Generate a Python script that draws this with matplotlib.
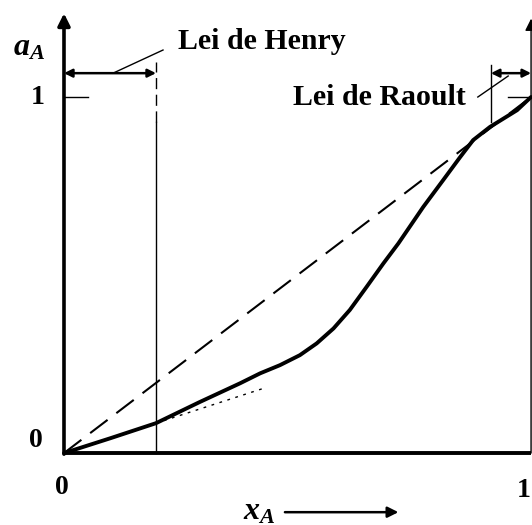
import matplotlib
matplotlib.use("Agg")
import matplotlib.pyplot as plt

plt.rcParams["mathtext.fontset"] = "custom"
plt.rcParams["mathtext.it"] = "Liberation Serif:italic:bold"
plt.rcParams["mathtext.rm"] = "Liberation Serif:bold"

# activity of A against its mole fraction (non-ideal solution)
x_real = [0.0, 0.1, 0.197, 0.29, 0.377, 0.420, 0.4625, 0.505, 0.541, 0.577,
          0.612, 0.648, 0.684, 0.716, 0.769, 0.812, 0.848, 0.876, 0.912,
          0.970, 1.0]
a_real = [0.0, 0.042, 0.084, 0.143, 0.196, 0.224, 0.247, 0.275, 0.308, 0.350,
          0.402, 0.467, 0.533, 0.589, 0.691, 0.767, 0.831, 0.879, 0.916,
          0.963, 1.0]

# Raoult ideal line and Henry tangent
x_ideal = [0.0, 1.0]
a_ideal = [0.0, 1.0]
x_henry = [0.197, 0.43]
a_henry = [0.084, 0.183]

x_henry_lim = 0.197
x_raoult_lim = 0.914

serif = ["Liberation Serif", "DejaVu Serif"]

fig = plt.figure(figsize=(5.32, 5.25), dpi=100)
ax = fig.add_axes([0, 0, 1, 1])
ax.set_xlim(-0.137, 1.002)
ax.set_ylim(-0.202, 1.2725)
ax.axis("off")

# axes drawn by hand
ax.annotate("", xy=(0, 1.235), xytext=(0, -0.003),
            arrowprops=dict(arrowstyle="-|>", lw=2.6, color="black",
                            mutation_scale=18, shrinkA=0, shrinkB=0))
ax.plot([0, 1], [0, 0], color="black", lw=2.8, solid_capstyle="butt")
ax.annotate("", xy=(1, 1.22), xytext=(1, 0),
            arrowprops=dict(arrowstyle="-|>", lw=1.0, color="black",
                            mutation_scale=18, shrinkA=0, shrinkB=0))
ax.plot([0, 0.051], [1, 1], color="black", lw=1.0)
ax.plot([0.951, 1], [1, 1], color="black", lw=1.0)

# curves
ax.plot(x_ideal, a_ideal, color="black", lw=1.5, dashes=(10.5, 5.3))
ax.plot(x_henry, a_henry, color="black", lw=1.0, dashes=(2, 4))
ax.plot(x_real, a_real, color="black", lw=2.8, solid_joinstyle="round",
        solid_capstyle="round")

# limit lines
ax.plot([x_henry_lim, x_henry_lim], [0, 0.93], color="black", lw=1.0)
ax.plot([x_henry_lim, x_henry_lim], [0.93, 1.098], color="black", lw=1.0, dashes=(8, 4))
ax.plot([x_raoult_lim, x_raoult_lim], [0.93, 1.09], color="black", lw=1.0)

arr = dict(arrowstyle="<|-|>", lw=1.8, color="black", mutation_scale=12,
           shrinkA=0, shrinkB=0)
ax.annotate("", xy=(0, 1.067), xytext=(x_henry_lim, 1.067), arrowprops=arr)
ax.annotate("", xy=(x_raoult_lim, 1.067), xytext=(1, 1.067), arrowprops=arr)

# leaders and labels
ax.plot([0.105, 0.212], [1.067, 1.132], color="black", lw=1.0)
ax.plot([0.886, 0.951], [1.0, 1.059], color="black", lw=1.0)
ax.text(0.244, 1.155, "Lei de Henry", family=serif, weight="bold",
        fontsize=21.5, ha="left", va="center")
ax.text(0.861, 1.0, "Lei de Raoult", family=serif, weight="bold",
        fontsize=21.5, ha="right", va="center")

ax.text(-0.075, 1.14, r"$a_A$", fontsize=23, ha="center", va="center")
ax.text(-0.057, 1.0, "1", family=serif, weight="bold", fontsize=20, ha="center", va="center")
ax.text(-0.06, 0.034, "0", family=serif, weight="bold", fontsize=20, ha="center", va="center")
ax.text(-0.004, -0.096, "0", family=serif, weight="bold", fontsize=20, ha="center", va="center")
ax.text(1.0, -0.104, "1", family=serif, weight="bold", fontsize=20, ha="right", va="center")
ax.text(0.418, -0.162, r"$x_A$", fontsize=23, ha="center", va="center")
ax.annotate("", xy=(0.716, -0.166), xytext=(0.473, -0.166),
            arrowprops=dict(arrowstyle="-|>", lw=1.8, color="black",
                            mutation_scale=16, shrinkA=0, shrinkB=0))

fig.savefig("out.png", dpi=100)
